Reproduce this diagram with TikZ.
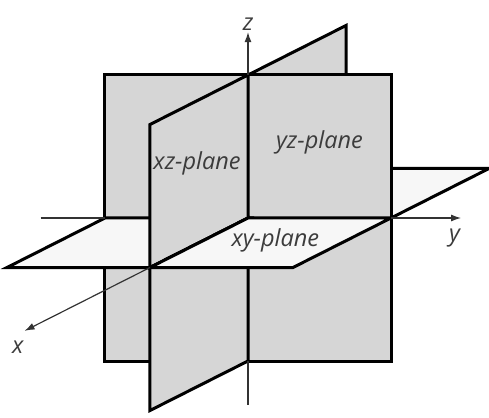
\documentclass[tikz,border=0pt]{standalone}
\usepackage{fontspec}
\setsansfont{Open Sans}
\usepackage{tikz}
\usetikzlibrary{arrows.meta, positioning}
\definecolor{planegray}{RGB}{214,214,214}
\definecolor{floorwhite}{RGB}{247,247,247}
\definecolor{labelgray}{RGB}{60,60,60}

\begin{document}
\begin{tikzpicture}[
    x={(-98pt,-49.5pt)}, y={(143pt,0pt)}, z={(0pt,143pt)},
    wall/.style={fill=planegray, draw=black, line width=3pt, line join=miter},
    floor/.style={fill=floorwhite, draw=black, line width=3pt, line join=miter},
    axis/.style={line width=1.2pt, draw=black!80},
    axisarrow/.style={axis, -{Latex[length=10pt,width=7pt]}},
    planelabel/.style={font=\sffamily\itshape\fontsize{23.5}{27}\selectfont, text=labelgray},
    axislabel/.style={font=\sffamily\itshape\fontsize{23.5}{27}\selectfont, text=labelgray, inner sep=1pt},
]
\useasboundingbox (-248pt,-199pt) rectangle (241pt,218pt);

% Axis end points
\coordinate (O) at (0,0,0);
\coordinate (zin) at (0,0,1);
\coordinate (zend) at (0,0,1.3);
\coordinate (zlow) at (0,0,-1);
\coordinate (zfoot) at (0,0,-1.31);
\coordinate (yleft) at (0,-1.45,0);
\coordinate (yin) at (0,-1,0);
\coordinate (yout) at (0,1,0);
\coordinate (yend) at (0,1.49,0);
\coordinate (xin) at (1,0,0);
\coordinate (xend) at (2.28,0,0);

% Back halves (x < 0)
\filldraw[wall] (0,0,1) -- (-1,0,1) -- (-1,0,-1) -- (0,0,-1) -- cycle;
\filldraw[floor] (0,-1,0) -- (-1,-1,0) -- (-1,1,0) -- (0,1,0) -- cycle;

% yz-plane
\filldraw[wall] (0,-1,-1) -- (0,1,-1) -- (0,1,1) -- (0,-1,1) -- cycle;

% Front quadrants (x > 0)
\filldraw[floor] (O) -- (0,-1,0) -- (1,-1,0) -- (1,0,0) -- cycle;
\filldraw[wall] (O) -- (0,0,1) -- (1,0,1) -- (1,0,0) -- cycle;
\filldraw[wall] (O) -- (0,0,-1) -- (1,0,-1) -- (1,0,0) -- cycle;
\filldraw[floor] (O) -- (0,1,0) -- (1,1,0) -- (1,0,0) -- cycle;

% Axes
\draw[axisarrow] (zin) -- (zend);
\draw[axis] (zlow) -- (zfoot);
\draw[axis] (yleft) -- (yin);
\draw[axisarrow] (yout) -- (yend);
\draw[axisarrow] (xin) -- (xend);

% Labels
\node[axislabel, above=0pt of zend] (zlab) {z};
\node[axislabel, below left=10pt and 0pt of yend] (ylab) {y};
\node[axislabel, below left=9pt and 0pt of xend] (xlab) {x};
\node[planelabel] (xzlab) at (0.52,0,0.56) {xz-plane};
\node[planelabel] (yzlab) at (0,0.5,0.53) {yz-plane};
\node[planelabel] (xylab) at (0.45,0.5,0) {xy-plane};

\end{tikzpicture}
\end{document}
